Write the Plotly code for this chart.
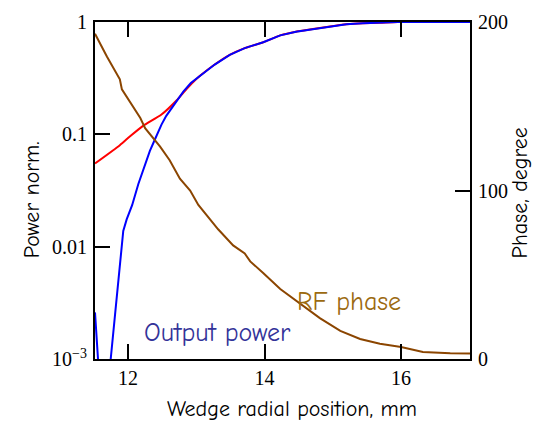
import plotly.graph_objects as go

# Output power (blue), normalized
blue_x = [11.516, 11.56, 11.62, 11.70, 11.746, 11.81, 11.89, 11.93, 11.98, 12.06, 12.15, 12.25, 12.32,
          12.39, 12.49, 12.56, 12.64, 12.72, 12.81, 12.92, 13.05, 13.27, 13.49, 13.71, 13.98, 14.23,
          14.46, 14.71, 14.96, 15.2, 15.44, 15.69, 15.95, 17.01]
blue_y = [0.0026, 0.001, 0.00003, 0.0003, 0.001, 0.0025, 0.0087, 0.0138, 0.0175, 0.0234, 0.036, 0.055, 0.0713,
          0.089, 0.122, 0.146, 0.17, 0.20, 0.24, 0.286, 0.33, 0.418, 0.51, 0.585, 0.66, 0.76,
          0.82, 0.865, 0.914, 0.955, 0.975, 0.985, 1.0, 1.0]

# Reference power (red)
red_x = [11.516, 11.88, 12.03, 12.22, 12.49, 12.71, 12.86, 13.0, 13.05, 13.27, 13.49, 13.71, 13.98, 14.23,
         14.46, 14.71, 14.96, 15.2, 15.44, 15.69, 15.95, 17.01]
red_y = [0.055, 0.080, 0.096, 0.119, 0.15, 0.20, 0.254, 0.31, 0.33, 0.418, 0.51, 0.585, 0.66, 0.76,
         0.82, 0.865, 0.914, 0.955, 0.975, 0.985, 1.0, 1.0]

# RF phase (brown), degrees
phase_x = [11.516, 11.69, 11.88, 11.91, 12.18, 12.25, 12.47, 12.61, 12.76, 12.91, 13.03, 13.15, 13.32,
           13.54, 13.71, 13.79, 13.98, 14.23, 14.52, 14.81, 15.11, 15.40, 15.69, 16.0, 16.32, 16.72, 17.01]
phase_y = [193, 179.5, 166, 160, 143, 137, 126, 118, 107, 100, 91.4, 85.6, 77,
           67.4, 62.6, 57.9, 51.1, 41.5, 33, 24.3, 16.7, 11.9, 9, 7.1, 4.2, 3.4, 3.3]

x_ticks = [12, 14, 16]
left_tickvals = [0.001, 0.01, 0.1, 1]
left_ticktext = ["10<sup>\u22123</sup>", "0.01", "0.1", "1"]
right_tickvals = [0, 100, 200]

serif = "Liberation Serif, Times New Roman, serif"
comic = "Comic Sans MS, Comic Neue, Open Sans, sans-serif"

fig = go.Figure()
fig.add_trace(go.Scatter(x=red_x, y=red_y, mode="lines", line=dict(color="#FF0000", width=2, shape="spline", smoothing=0.6),
                         yaxis="y", showlegend=False))
fig.add_trace(go.Scatter(x=blue_x, y=blue_y, mode="lines", line=dict(color="#0000FF", width=2),
                         yaxis="y", showlegend=False))
fig.add_trace(go.Scatter(x=phase_x, y=phase_y, mode="lines", line=dict(color="#8B4500", width=2),
                         yaxis="y2", showlegend=False))

fig.update_layout(
    width=539, height=426,
    margin=dict(l=95, r=69, t=11, b=67),
    paper_bgcolor="white", plot_bgcolor="white",
    xaxis=dict(range=[11.516, 17.01], tickvals=x_ticks, ticks="inside", ticklen=15, tickwidth=2,
               tickcolor="black", showline=True, linecolor="black", linewidth=2, mirror="ticks",
               showgrid=False, zeroline=False,
               tickfont=dict(family=serif, size=20, color="black")),
    yaxis=dict(type="log", range=[-3, 0], tickvals=left_tickvals, ticktext=left_ticktext,
               ticks="inside", ticklen=15, tickwidth=2, tickcolor="black", showline=True,
               linecolor="black", linewidth=2, mirror=False, showgrid=False, zeroline=False,
               ticklabelstandoff=2,
               tickfont=dict(family=serif, size=20, color="black")),
    yaxis2=dict(range=[0, 200], tickvals=right_tickvals, overlaying="y", side="right",
                ticks="inside", ticklen=15, tickwidth=2, tickcolor="black", showline=True,
                linecolor="black", linewidth=2, showgrid=False, zeroline=False,
                ticklabelstandoff=2,
                tickfont=dict(family=serif, size=20, color="black")),
    annotations=[
        dict(text="Power norm.", xref="paper", yref="paper", x=-0.168, y=0.474, textangle=-90,
             xanchor="center", yanchor="middle",
             showarrow=False, font=dict(family=comic, size=22, color="black")),
        dict(text="Phase, degree", xref="paper", yref="paper", x=1.133, y=0.494, textangle=-90,
             xanchor="center", yanchor="middle",
             showarrow=False, font=dict(family=comic, size=22, color="black")),
        dict(text="Wedge radial position, mm", xref="paper", yref="paper", x=0.525, y=-0.147,
             xanchor="center", yanchor="middle",
             showarrow=False, font=dict(family=comic, size=22, color="black")),
        dict(text="Output power", xref="x", yref="paper", x=13.31, y=0.078,
             xanchor="center", yanchor="middle",
             showarrow=False, font=dict(family=comic, size=26, color="#333399")),
        dict(text="RF phase", xref="x", yref="paper", x=15.23, y=0.17,
             xanchor="center", yanchor="middle",
             showarrow=False, font=dict(family=comic, size=26, color="#9C6A10")),
    ],
)

fig.write_html("out.html")
